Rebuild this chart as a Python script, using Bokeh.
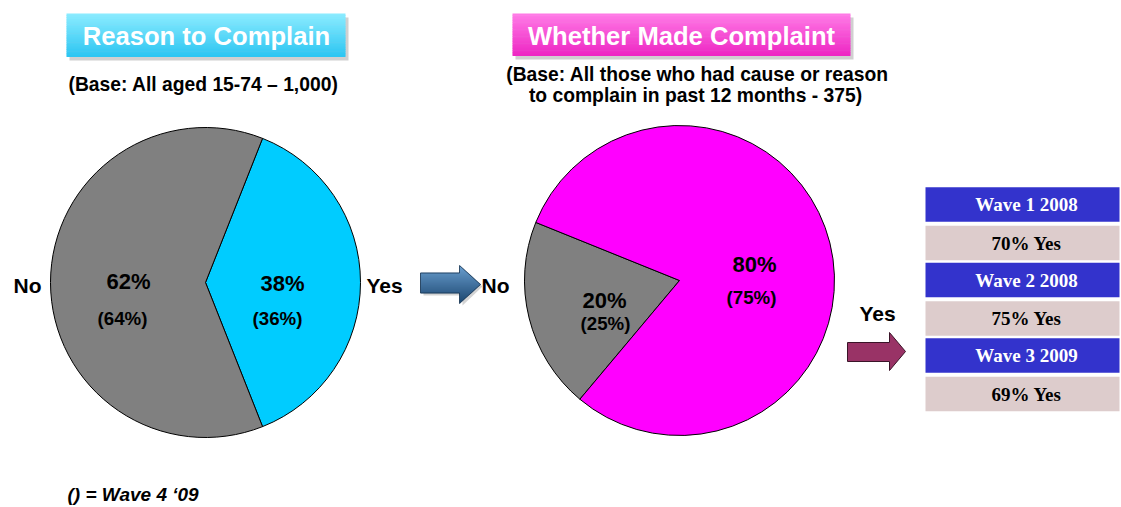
import numpy as np
from bokeh.plotting import figure
from bokeh.models import Range1d
from bokeh.embed import file_html
from bokeh.resources import INLINE
from bokeh.core.properties import value

# ---------------- data ----------------
left_labels = ["Yes", "No"]
left_values = [38, 62]
left_wave4 = [36, 64]
left_colors = ["#00CCFF", "#808080"]

right_labels = ["No", "Yes"]
right_values = [20, 80]
right_wave4 = [25, 75]
right_colors = ["#808080", "#FF00FF"]

wave_names = ["Wave 1 2008", "Wave 2 2008", "Wave 3 2009"]
wave_yes = [70, 75, 69]

titles = ["Reason to Complain", "Whether Made Complaint"]
base_left = "(Base: All aged 15-74 \u2013 1,000)"
base_right = ["(Base: All those who had cause or reason", "to complain in past 12 months - 375)"]
footnote = "() = Wave 4 \u201809"

# ---------------- layout ----------------
SANS = "Liberation Sans"
SERIF = "Liberation Serif"
W, H = 1121, 507


def Y(v):
    return H - np.asarray(v, dtype=float)


p = figure(width=W, height=H, x_range=Range1d(0, W), y_range=Range1d(0, H),
           output_backend="svg", toolbar_location=None, x_axis_type=None, y_axis_type=None,
           min_border=0, outline_line_color=None)
p.background_fill_color = "white"
p.border_fill_color = "white"


def txt(x, y, s, size, color="black", font=SANS, style="bold", align="center"):
    p.text(x=[x], y=[float(Y(y))], text=[s], text_font=value(font),
           text_font_size=f"{size}px", text_font_style=style, text_color=color,
           text_align=align, text_baseline="middle")


def mix(c1, c2, t):
    a = [int(c1[i:i + 2], 16) for i in (1, 3, 5)]
    b = [int(c2[i:i + 2], 16) for i in (1, 3, 5)]
    return "#%02x%02x%02x" % tuple(int(round(a[k] + (b[k] - a[k]) * t)) for k in range(3))


def grad_box(x0, x1, y0, y1, ctop, cbot, n=24):
    ys = np.linspace(y0, y1, n + 1)
    cols = [mix(ctop, cbot, i / (n - 1)) for i in range(n)]
    p.quad(left=x0, right=x1, top=Y(ys[:-1]), bottom=Y(ys[1:] + 0.6), fill_color=cols,
           line_color=None)


# title boxes with shadow
p.quad(left=69, right=348, top=float(Y(17)), bottom=float(Y(60)), fill_color="#D0D0D0", line_color=None)
grad_box(66, 345, 13, 56, "#8AEBFF", "#2EC6F2")
txt(206, 35, titles[0], 25.6, color="white")

p.quad(left=515, right=853, top=float(Y(17)), bottom=float(Y(59)), fill_color="#D0D0D0", line_color=None)
grad_box(512, 850, 13, 55, "#FF7AE6", "#EE28C4")
txt(681, 35, titles[1], 25.6, color="white")

txt(203, 84, base_left, 19.3)
txt(697, 74, base_right[0], 19.3)
txt(695, 95, base_right[1], 19.3)

# ---------------- pies ----------------
def pie(cx, cy, r, vals, cols, a0, direction):
    cum = np.cumsum([0] + list(vals)) / 100.0 * 360.0
    sgn = -1 if direction == "clock" else 1
    starts = [np.radians(a0 + sgn * c) for c in cum[:-1]]
    ends = [np.radians(a0 + sgn * c) for c in cum[1:]]
    p.wedge(x=[cx] * len(vals), y=[float(Y(cy))] * len(vals), radius=r,
            start_angle=starts, end_angle=ends, direction=direction,
            fill_color=cols, line_color="black", line_width=1)


pie(205, 282, 155, left_values, left_colors, 68.4, "clock")
pie(679, 280, 155, right_values, right_colors, 158.0, "anticlock")

# percent labels
left_pos = {"Yes": (282, 283, 277, 317.5), "No": (128, 281, 122, 317.5)}
for lab, v, w in zip(left_labels, left_values, left_wave4):
    x1, y1, x2, y2 = left_pos[lab]
    txt(x1, y1, f"{v}%", 22)
    txt(x2, y2, f"({w}%)", 18.7)

right_pos = {"No": (604, 300, 605, 323), "Yes": (754, 264, 751, 297)}
for lab, v, w in zip(right_labels, right_values, right_wave4):
    x1, y1, x2, y2 = right_pos[lab]
    txt(x1, y1, f"{v}%", 22)
    txt(x2, y2, f"({w}%)", 18.7)

txt(27, 285, left_labels[1], 21)
txt(384, 285, left_labels[0], 21)
txt(495, 285, right_labels[0], 21)
txt(877, 313, right_labels[1], 21)

# ---------------- arrows ----------------
def arrow_rows(xl, xh, bt, bb, ht, hb, xt, ctop, cbot):
    yt = (ht + hb) / 2.0
    half = (hb - ht) / 2.0
    ys = np.arange(ht, hb + 0.01, 1.0)
    x0s, x1s, cols = [], [], []
    for y in ys:
        hr = xh + (xt - xh) * (1 - abs(y - yt) / half)
        left = xl if bt <= y <= bb else xh
        x0s.append(left)
        x1s.append(hr)
        cols.append(mix(ctop, cbot, (y - ht) / (hb - ht)))
    p.segment(x0=x0s, y0=Y(ys), x1=x1s, y1=Y(ys), line_color=cols, line_width=1.3)
    xs = [xl, xh, xh, xt, xh, xh, xl]
    yy = [bt, bt, ht, yt, hb, bb, bb]
    p.patch(x=xs, y=Y(yy), fill_color=None, line_color=mix(cbot, "#000000", 0.3), line_width=0.8)


# shadow for blue arrow
p.patch(x=[423, 462, 462, 482, 462, 462, 423], y=Y([275, 275, 267, 286, 305, 295, 295]),
        fill_color="#D4D4D4", line_color=None)
arrow_rows(420, 459, 272.5, 292.5, 265, 303, 480, "#6A9FD0", "#1C466F")

p.patch(x=[847, 889, 889, 905, 889, 889, 847], y=Y([342, 342, 332, 351, 370, 361, 361]),
        fill_color="#993366", line_color="#3A1428", line_width=1)

# ---------------- table ----------------
row_h = 34.5
for i, (name, yes) in enumerate(zip(wave_names, wave_yes)):
    yc_head = 204 + i * 75.5
    yc_val = yc_head + 38.5
    p.quad(left=925, right=1119, top=float(Y(yc_head - row_h / 2)), bottom=float(Y(yc_head + row_h / 2)),
           fill_color="#3333CC", line_color=None)
    p.quad(left=925, right=1119, top=float(Y(yc_val - row_h / 2)), bottom=float(Y(yc_val + row_h / 2)),
           fill_color="#DDCCCC", line_color=None)
    txt(1026, yc_head, name, 19, color="white", font=SERIF)
    txt(1026, yc_val, f"{yes}% Yes", 19, color="black", font=SERIF)

# footnote
txt(67, 494, footnote, 19, style="bold italic", align="left")

open("out.html", "w").write(file_html(p, INLINE))
